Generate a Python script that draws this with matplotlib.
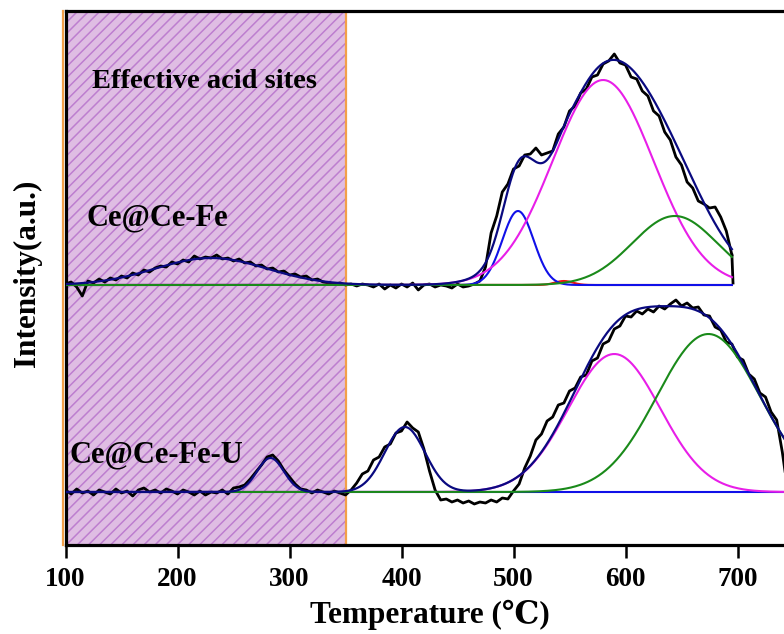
import numpy as np
import matplotlib
matplotlib.use("Agg")
import matplotlib.pyplot as plt

plt.rcParams['font.family'] = ['Liberation Serif', 'DejaVu Serif', 'Noto Sans CJK SC']
plt.rcParams['font.weight'] = 'bold'
plt.rcParams['hatch.linewidth'] = 1.1

# ---- measured NH3-TPD traces (heights above each baseline, a.u.) ----
upper_temp = np.arange(100, 700, 5)          # Ce@Ce-Fe, 100..695
upper_signal = [
    1, 3, -2, -11, 4, 2, 6, 3, 7, 5,
    9, 7, 12, 10, 15, 13, 17, 19, 18, 23,
    21, 25, 23, 29, 26, 28, 27, 30, 26, 27,
    24, 26, 22, 23, 19, 20, 16, 17, 13, 14,
    10, 11, 8, 9, 5, 6, 3, 2, 1, 2,
    0, 1, -1, 1, 0, -2, 1, -4, 0, -3,
    1, -2, 2, -5, 0, 1, -2, 0, -1, -3,
    1, -2, -1, 1, 4, 18, 52, 69, 93, 101,
    116, 119, 130, 131, 137, 130, 132, 134, 151, 158,
    174, 179, 192, 196, 208, 210, 221, 224, 231, 222,
    220, 208, 206, 194, 189, 174, 169, 153, 145, 128,
    120, 103, 97, 84, 81, 77, 78, 68, 54, 30,
]

lower_temp = np.arange(100, 750, 5)          # Ce@Ce-Fe-U, 100..745
lower_signal = [
    2, -2, 3, -1, 1, -3, 2, 0, -2, 3,
    -1, 1, -4, 2, 4, 0, 2, -1, 3, 1,
    -2, 2, 0, -3, 1, -3, 0, -1, 2, -2,
    4, 5, 7, 13, 20, 27, 35, 37, 31, 22,
    15, 8, 3, 2, -1, 2, 0, -2, 1, -1,
    -3, 2, 9, 18, 21, 32, 35, 45, 48, 59,
    61, 70, 64, 60, 43, 21, 2, -8, -7, -10,
    -8, -11, -9, -12, -10, -11, -8, -10, -6, -7,
    1, 8, 24, 36, 52, 58, 71, 75, 87, 89,
    101, 104, 115, 117, 131, 134, 148, 151, 163, 166,
    176, 175, 181, 178, 183, 180, 186, 183, 188, 192,
    186, 189, 184, 185, 177, 176, 165, 162, 150, 148,
    135, 132, 118, 113, 99, 95, 80, 72, 40, 0,
]

# ---- fitted Gaussian peaks: centre (degC), height, sigma ----
upper_hidden = [(230, 27, 50)]               # low-T hump, only in the envelope
upper_blue = (504, 74, 14)
upper_magenta = (580, 205, 45)
upper_green = (644, 69, 38)
upper_red = (545, 4, 8)

lower_hidden = [(283, 34, 12), (403, 65, 18)]
lower_blue = (600, 0, 40)
lower_magenta = (590, 138, 41)
lower_green = (674, 158, 46)

upper_range = (100, 695)
lower_range = (100, 745)

# layout: vertical offset of each trace (axes units = pixels)
UPPER_BASE = 260
LOWER_BASE = 53


def gauss(t, peak):
    c, h, s = peak
    return h * np.exp(-0.5 * ((t - c) / s) ** 2)


fig = plt.figure(figsize=(7.84, 6.34), dpi=100)
ax = fig.add_axes([65.5 / 784, 89 / 634, 739.2 / 784, 534 / 634])
ax.set_xlim(100, 760)
ax.set_ylim(0, 534)

# effective acid site window
ax.axvspan(100, 350, facecolor='#DFBDE3', edgecolor='#BD7ECF', hatch='///',
           linewidth=0, zorder=0)
ax.axvline(97.6, color='#F2A04A', lw=1.6, zorder=1, clip_on=False)
ax.axvline(350, color='#F2A04A', lw=1.6, zorder=1)

traces = [
    (upper_temp, upper_signal, UPPER_BASE, upper_range, upper_hidden,
     [(upper_red, '#F01010', 2.5), (upper_blue, '#1010E8', 3),
      (upper_magenta, '#E81EE8', 4), (upper_green, '#1A8A1A', 5)]),
    (lower_temp, lower_signal, LOWER_BASE, lower_range, lower_hidden,
     [(lower_blue, '#1010E8', 3), (lower_magenta, '#E81EE8', 4),
      (lower_green, '#1A8A1A', 5)]),
]

for temp, signal, base, (t0, t1), hidden, comps in traces:
    sig = np.array(signal, dtype=float) + base
    ax.plot(temp, sig, color='black', lw=2.0, zorder=2)
    t = np.linspace(t0, t1, 600)
    envelope = np.zeros_like(t)
    for pk in hidden:
        envelope += gauss(t, pk)
    for pk, col, z in comps:
        g = gauss(t, pk)
        envelope += g
        ax.plot(t, g + base, color=col, lw=1.5, zorder=z)
    ax.plot(t, envelope + base, color='#0A0A80', lw=1.6, zorder=6)

# upper trace drops back to baseline at its last point
ax.plot([upper_temp[-1], upper_temp[-1] + 1], [upper_signal[-1] + UPPER_BASE, UPPER_BASE + 2],
        color='black', lw=2.0, zorder=2)

ax.text(124, 463, 'Effective acid sites', fontsize=20.5, fontweight='bold',
        ha='left', va='center', zorder=7)
ax.text(119, 327, 'Ce@Ce-Fe', fontsize=22, fontweight='bold',
        ha='left', va='center', zorder=7)
ax.text(104, 90, 'Ce@Ce-Fe-U', fontsize=22, fontweight='bold',
        ha='left', va='center', zorder=7)

ax.set_xticks([100, 200, 300, 400, 500, 600, 700])
ax.set_yticks([])
ax.tick_params(axis='x', direction='out', length=9, width=1.8, pad=7,
               labelsize=19.5)
for lab in ax.get_xticklabels():
    lab.set_fontweight('bold')
for sp in ax.spines.values():
    sp.set_linewidth(2.3)

fig.text(430 / 784, 19 / 634, 'Temperature (℃)', fontsize=22.5, fontweight='bold',
         ha='center', va='center')
fig.text(27 / 784, 361 / 634, 'Intensity(a.u.)', fontsize=22.5, fontweight='bold',
         ha='center', va='center', rotation=90)

fig.savefig('out.png', dpi=100)
